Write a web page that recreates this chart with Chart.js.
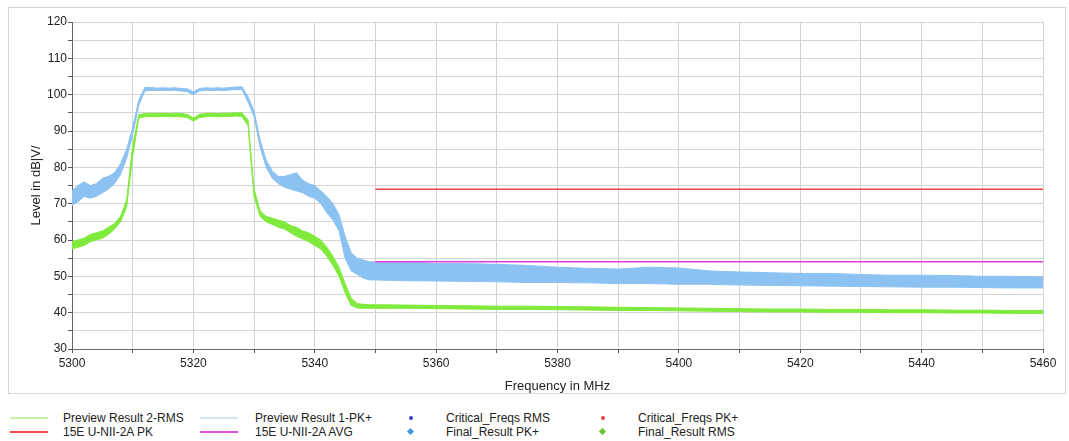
<!DOCTYPE html>
<html>
<head>
<meta charset="utf-8">
<script src="https://cdn.jsdelivr.net/npm/chart.js@4.4.1/dist/chart.umd.min.js"></script>
<style>
  body { margin: 0; background: #fff; font-family: "Liberation Sans", Arial, sans-serif; }
  #frame { position: absolute; left: 8px; top: 7px; width: 1056px; height: 385px; border: 1px solid #d6d6d6; }
  #wrap { position: absolute; left: 0; top: 0; width: 1069px; height: 400px; }
  .lg { position: absolute; font-size: 12px; color: #222; line-height: 14px; white-space: nowrap; }
  .mk { position: absolute; }
</style>
</head>
<body>
<div id="frame"></div>
<div id="wrap"><canvas id="chart"></canvas></div>
<div id="legend"></div>
<script>
// frequency points (MHz) shared by both preview traces
const freqs = [
  5300, 5301, 5302, 5303, 5304, 5305, 5306, 5307, 5308, 5309,
  5310, 5311, 5312, 5313, 5314, 5315, 5316, 5317, 5318, 5319,
  5320, 5321, 5322, 5323, 5324, 5325, 5326, 5327, 5328, 5329,
  5330, 5331, 5332, 5333, 5334, 5335, 5336, 5337, 5338, 5339,
  5340, 5341, 5342, 5343, 5344, 5345, 5346, 5347, 5348, 5349,
  5350, 5355, 5360, 5365, 5370, 5375, 5380, 5385, 5390, 5395,
  5400, 5405, 5410, 5415, 5420, 5425, 5430, 5435, 5440, 5445,
  5450, 5455, 5460
];

// Preview Result 1-PK+ : upper / lower edge of the noise band
const pkHigh = [
  73.5, 75, 76, 75, 75.5, 77, 77.5, 78.5, 81, 85,
  91, 98.5, 102, 102, 101.8, 101.9, 101.8, 101.9, 101.7, 101.6,
  100.8, 101.7, 101.9, 101.8, 101.9, 101.8, 102, 102.1, 102.2, 99.5,
  95.5, 87.5, 82, 79, 77.5, 77.5, 78, 78.5, 76.5, 75.5,
  75, 73.5, 72, 70, 67, 61, 56.5, 55, 54.5, 54,
  54, 54, 53.5, 53.5, 53.3, 53, 52.5, 52.2, 52, 52.5,
  52.3, 51.5, 51.2, 51, 50.8, 50.8, 50.5, 50.3, 50.3, 50.2,
  50, 50, 49.8
];
const pkLow = [
  69.5, 70.5, 72, 71.5, 72, 73, 74, 75.5, 78, 82.5,
  89, 97, 101, 101.2, 101.1, 101.2, 101.1, 101.2, 101, 100.8,
  100, 101, 101.2, 101.1, 101.2, 101.1, 101.3, 101.4, 101.4, 98,
  94, 85.5, 80, 77, 75.5, 74.5, 74, 73.5, 73, 72,
  71.5, 70, 67.5, 65.5, 62.5, 55, 51.5, 50.5, 49.5, 49,
  49, 48.8, 48.7, 48.6, 48.5, 48.3, 48.3, 48.2, 48, 48,
  47.8, 47.8, 47.6, 47.5, 47.4, 47.3, 47.2, 47.1, 47, 47,
  46.9, 46.8, 46.8
];

// Preview Result 2-RMS : upper / lower edge of the band
const rmsHigh = [
  59.5, 60, 60.5, 61.5, 62, 62.5, 63.5, 64.5, 66.5, 71,
  86, 94.5, 94.8, 94.9, 94.8, 94.9, 94.8, 94.9, 94.8, 94.6,
  93.5, 94.6, 94.8, 94.9, 94.8, 94.9, 94.9, 95, 95, 93,
  74, 68, 66.5, 66, 65.5, 65, 64, 63.5, 62.5, 62,
  61, 60, 58, 55.5, 52.5, 48, 44, 42.5, 42.3, 42.2,
  42.2, 42.1, 42, 41.9, 41.8, 41.8, 41.7, 41.6, 41.5, 41.4,
  41.3, 41.2, 41.1, 41, 41, 40.9, 40.9, 40.8, 40.8, 40.7,
  40.7, 40.6, 40.6
];
const rmsLow = [
  57.5, 58, 58.5, 59.5, 60, 60.5, 61.5, 63, 65, 69,
  83, 93.5, 93.9, 94, 93.9, 94, 93.9, 94, 93.9, 93.7,
  92.7, 93.7, 93.9, 94, 93.9, 94, 94, 94.1, 94, 91.5,
  72, 66.5, 65, 64.3, 63.5, 63, 62, 61, 60.3, 59.5,
  58.5, 57.5, 55.5, 53, 50, 45.5, 42, 41.3, 41.2, 41.2,
  41.2, 41.2, 41.1, 41, 40.9, 40.9, 40.8, 40.7, 40.6, 40.6,
  40.5, 40.4, 40.3, 40.2, 40.2, 40.1, 40.1, 40, 40, 39.9,
  39.9, 39.8, 39.8
];

// limit lines
const limitFreqs = [5350, 5460];
const limitPk = [74, 74];
const limitAvg = [54, 54];

// legend
const legendNames = [
  'Preview Result 2-RMS', 'Preview Result 1-PK+', 'Critical_Freqs RMS', 'Critical_Freqs PK+',
  '15E U-NII-2A PK', '15E U-NII-2A AVG', 'Final_Result PK+', 'Final_Result RMS'
];
const legendColors = ['#c6f2a4', '#d2e4f6', '#3a3ad0', '#e84040', '#f04a4a', '#e050e0', '#3a98e6', '#5cc82a'];
const legendKinds = ['line', 'line', 'dot', 'dot', 'line', 'line', 'diamond', 'diamond'];

const pts = (xs, ys) => xs.map((x, i) => ({ x: x, y: ys[i] }));

const blue = '#8cc2f2';
const green = '#7fea3c';

const ds = (label, data, color, extra) => Object.assign({
  label: label,
  data: data,
  borderColor: color,
  backgroundColor: color,
  borderWidth: 1,
  pointRadius: 0,
  tension: 0,
  fill: false
}, extra || {});

new Chart(document.getElementById('chart'), {
  type: 'line',
  data: {
    datasets: [
      ds('15E U-NII-2A PK', pts(limitFreqs, limitPk), '#f04444', { borderWidth: 1.5 }),
      ds('15E U-NII-2A AVG', pts(limitFreqs, limitAvg), '#e040e0', { borderWidth: 1.5 }),
      ds('Preview Result 1-PK+', pts(freqs, pkHigh), blue),
      ds('Preview Result 1-PK+ low', pts(freqs, pkLow), blue, { fill: '-1' }),
      ds('Preview Result 2-RMS', pts(freqs, rmsHigh), green),
      ds('Preview Result 2-RMS low', pts(freqs, rmsLow), green, { fill: '-1' })
    ]
  },
  options: {
    responsive: true,
    maintainAspectRatio: false,
    animation: false,
    layout: { padding: { left: 8, right: 26, top: 22, bottom: 6 } },
    plugins: { legend: { display: false }, tooltip: { enabled: false } },
    scales: {
      x: {
        type: 'linear',
        min: 5300,
        max: 5460,
        afterFit: (s) => { s.height = 45; },
        ticks: {
          stepSize: 10,
          autoSkip: false,
          maxRotation: 0,
          padding: 3,
          color: '#222',
          font: { family: 'Liberation Sans', size: 12 },
          callback: (v) => (v % 20 === 0 ? v : '')
        },
        grid: { color: '#d4d4d4', tickColor: '#555', tickLength: 4 },
        border: { color: '#666' },
        title: {
          display: true,
          text: 'Frequency in MHz',
          color: '#222',
          font: { family: 'Liberation Sans', size: 13 },
          padding: { top: 0, bottom: 0 }
        }
      },
      y: {
        min: 30,
        max: 120,
        afterFit: (s) => { s.width = 64; },
        ticks: {
          stepSize: 5,
          autoSkip: false,
          padding: 1,
          color: '#222',
          font: { family: 'Liberation Sans', size: 12 },
          callback: (v) => (v % 10 === 0 ? v : '')
        },
        grid: { color: '#d4d4d4', tickColor: '#555', tickLength: 4 },
        border: { color: '#666' },
        title: {
          display: true,
          text: 'Level in dB|V/',
          color: '#222',
          font: { family: 'Liberation Sans', size: 13 },
          padding: { top: 21, bottom: 0 }
        }
      }
    }
  }
});

// html legend, 4 columns x 2 rows
const colSample = [10, 200, 408, 600];
const colText = [63, 255, 446, 638];
const rowY = [418, 432];
const legend = document.getElementById('legend');
legendNames.forEach((name, i) => {
  const c = i % 4, r = Math.floor(i / 4);
  const y = rowY[r];
  const mk = document.createElement('div');
  mk.className = 'mk';
  if (legendKinds[i] === 'line') {
    Object.assign(mk.style, { left: colSample[c] + 'px', top: (y - 1) + 'px', width: '38px', height: '1.5px', background: legendColors[i] });
  } else if (legendKinds[i] === 'dot') {
    Object.assign(mk.style, { left: (colSample[c] + 1) + 'px', top: (y - 2) + 'px', width: '4px', height: '4px', borderRadius: '50%', background: legendColors[i] });
  } else {
    Object.assign(mk.style, { left: colSample[c] + 'px', top: (y - 3) + 'px', width: '5px', height: '5px', transform: 'rotate(45deg)', background: legendColors[i] });
  }
  legend.appendChild(mk);
  const t = document.createElement('div');
  t.className = 'lg';
  t.textContent = name;
  Object.assign(t.style, { left: colText[c] + 'px', top: (y - 7) + 'px' });
  legend.appendChild(t);
});
</script>
</body>
</html>
